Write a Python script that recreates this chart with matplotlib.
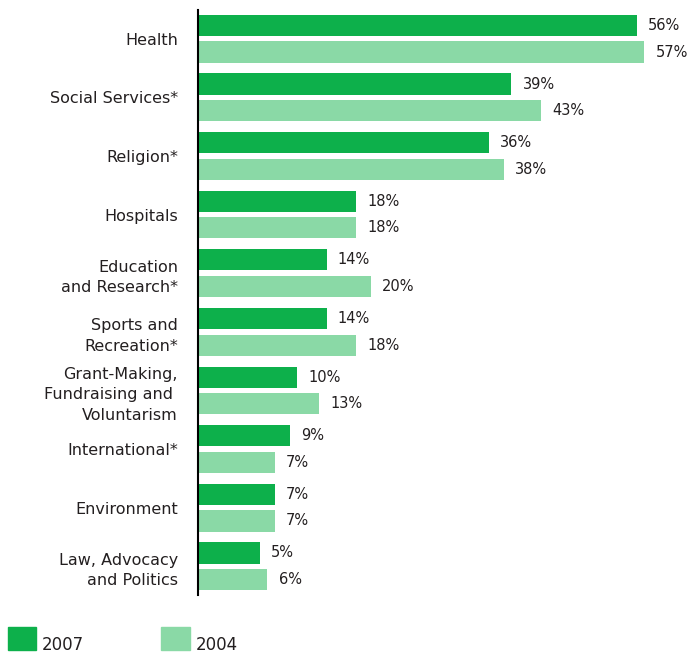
import matplotlib
matplotlib.use("Agg")
import matplotlib.pyplot as plt
from matplotlib.patches import Rectangle
import numpy as np

categories = ["Health", "Social Services*", "Religion*", "Hospitals",
              "Education\nand Research*", "Sports and\nRecreation*",
              "Grant-Making,\nFundraising and \nVoluntarism", "International*",
              "Environment", "Law, Advocacy\nand Politics"]
vals_2007 = [56, 39, 36, 18, 14, 14, 10, 9, 7, 5]
vals_2004 = [57, 43, 38, 18, 20, 18, 13, 7, 7, 6]

DARK = "#0db04b"
LIGHT = "#8ad9a6"
TXT = "#231f20"
BASE = -3.4  # bars start a bit left of zero in the original

fig = plt.figure(figsize=(6.88, 6.53), dpi=100)
ax = fig.add_axes([198 / 688, 1 - 595 / 653, 490 / 688, 585 / 653])

y = np.arange(len(categories))
h = 0.36
off = 0.227
ax.barh(y - off, np.array(vals_2007) - BASE, left=BASE, height=h, color=DARK)
ax.barh(y + off, np.array(vals_2004) - BASE, left=BASE, height=h, color=LIGHT)

for yi, v in zip(y - off, vals_2007):
    ax.text(v + 1.5, yi, "%d%%" % v, va="center", ha="left", fontsize=10.5, color=TXT)
for yi, v in zip(y + off, vals_2004):
    ax.text(v + 1.5, yi, "%d%%" % v, va="center", ha="left", fontsize=10.5, color=TXT)

ax.set_xlim(BASE, 62.9)
ax.set_ylim(9.49, -0.49)
ax.set_yticks(y)
ax.set_yticklabels(categories, fontsize=11.5, color=TXT, linespacing=1.45)
ax.tick_params(axis="y", length=0, pad=14.4)
ax.set_xticks([])
for s in ("top", "right", "bottom"):
    ax.spines[s].set_visible(False)
ax.spines["left"].set_color("black")
ax.spines["left"].set_linewidth(1.5)

# legend
W, H = 688, 653
fig.patches.append(Rectangle((8 / W, 1 - 650 / H), 28 / W, 23 / H,
                             transform=fig.transFigure, color=DARK))
fig.text(42 / W, 1 - 650 / H, "2007", fontsize=12, color=TXT, va="baseline")
fig.patches.append(Rectangle((161 / W, 1 - 650 / H), 29 / W, 23 / H,
                             transform=fig.transFigure, color=LIGHT))
fig.text(196 / W, 1 - 650 / H, "2004", fontsize=12, color=TXT, va="baseline")

fig.savefig("out.png", dpi=100)
